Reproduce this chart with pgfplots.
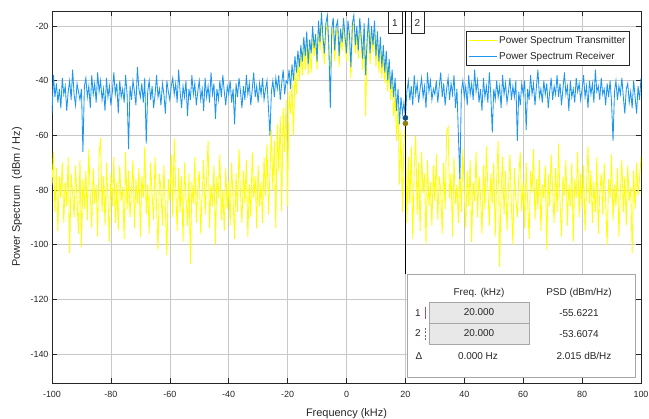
\documentclass[border=0pt]{standalone}
\usepackage{pgfplots}
\pgfplotsset{compat=1.18}
\usepackage{pgfplotstable}
\usepackage{fontspec}
\setmainfont{Liberation Sans}
\usetikzlibrary{calc}

\definecolor{txc}{RGB}{255,255,0}
\definecolor{rxc}{RGB}{30,150,240}
\definecolor{axc}{RGB}{38,38,38}
\definecolor{gridc}{RGB}{200,200,200}
\definecolor{dotb}{RGB}{20,75,130}
\definecolor{doty}{RGB}{140,125,20}
\definecolor{mk}{RGB}{170,80,110}

\pgfplotstableread{
x tx rx
-100 -78 -52
-99.5 -66 -38
-99 -88 -46
-98.5 -72 -41
-98 -95 -48
-97.5 -75 -43
-97 -83 -50
-96.5 -70 -39
-96 -92 -45
-95.5 -77 -42
-95 -86 -51
-94.5 -68 -44
-94 -103 -40
-93.5 -74 -47
-93 -81 -36
-92.5 -90 -45
-92 -71 -49
-91.5 -84 -41
-91 -96 -44
-90.5 -69 -47
-90 -101 -43
-89.5 -76 -66
-89 -87 -42
-88.5 -73 -39
-88 -91 -46
-87.5 -65 -42
-87 -82 -50
-86.5 -94 -38
-86 -72 -45
-85.5 -85 -41
-85 -78 -48
-84.5 -97 -37
-84 -67 -44
-83.5 -61 -40
-83 -88 -47
-82.5 -75 -43
-82 -93 -51
-81.5 -70 -39
-81 -83 -46
-80.5 -99 -42
-80 -74 -49
-79.5 -86 -44
-79 -68 -37
-78.5 -92 -45
-78 -77 -41
-77.5 -95 -52
-77 -71 -40
-76.5 -84 -46
-76 -79 -43
-75.5 -98 -48
-75 -66 -38
-74.5 -87 -45
-74 -73 -65
-73.5 -90 -42
-73 -80 -47
-72.5 -69 -40
-72 -94 -44
-71.5 -76 -49
-71 -85 -35
-70.5 -72 -43
-70 -97 -46
-69.5 -75 -41
-69 -83 -48
-68.5 -64 -39
-68 -89 -63
-67.5 -78 -44
-67 -96 -40
-66.5 -70 -47
-66 -82 -42
-65.5 -91 -50
-65 -68 -45
-64.5 -86 -38
-64 -102 -46
-63.5 -74 -43
-63 -80 -49
-62.5 -93 -41
-62 -71 -45
-61.5 -87 -52
-61 -104 -40
-60.5 -76 -44
-60 -84 -47
-59.5 -67 -42
-59 -90 -39
-58.5 -61 -45
-58 -79 -41
-57.5 -95 -48
-57 -72 -36
-56.5 -88 -44
-56 -75 -50
-55.5 -99 -42
-55 -70 -46
-54.5 -83 -40
-54 -93 -53
-53.5 -74 -43
-53 -107 -47
-52.5 -77 -38
-52 -85 -45
-51.5 -68 -41
-51 -92 -49
-50.5 -79 -44
-50 -73 -40
-49.5 -96 -47
-49 -81 -43
-48.5 -69 -51
-48 -89 -39
-47.5 -76 -46
-47 -62 -42
-46.5 -94 -48
-46 -78 -37
-45.5 -86 -45
-45 -71 -41
-44.5 -100 -54
-44 -75 -43
-43.5 -83 -47
-43 -67 -40
-42.5 -91 -46
-42 -80 -38
-41.5 -95 -44
-41 -72 -49
-40.5 -87 -42
-40 -77 -45
-39.5 -93 -40
-39 -70 -48
-38.5 -84 -43
-38 -98 -56
-37.5 -74 -41
-37 -88 -46
-36.5 -65 -39
-36 -81 -44
-35.5 -92 -50
-35 -73 -42
-34.5 -85 -47
-34 -69 -38
-33.5 -97 -45
-33 -78 -41
-32.5 -90 -49
-32 -66 -43
-31.5 -83 -37
-31 -75 -46
-30.5 -94 -42
-30 -71 -48
-29.5 -86 -41
-29 -77 -45
-28.5 -92 -39
-28 -68 -47
-27.5 -82 -43
-27 -63 -40
-26.5 -89 -50
-26 -74 -60
-25.5 -58 -44
-25 -80 -40
-24.5 -62 -46
-24 -94 -39
-23.5 -56 -43
-23 -73 -38
-22.5 -53 -47
-22 -88 -41
-21.5 -50 -36
-21 -66 -45
-20.5 -47 -40
-20 -86 -41
-19.5 -44 -36
-19 -52 -43
-18.5 -41 -34
-18 -60 -40
-17.5 -37 -31
-17 -45 -37
-16.5 -33 -29
-16 -40 -35
-15.5 -30 -27
-15 -38 -33
-14.5 -27 -24
-14 -36 -31
-13.5 -25 -22
-13 -38 -34
-12.5 -28 -25
-12 -37 -30
-11.5 -23 -20
-11 -31 -28
-10.5 -26 -23
-10 -36 -33
-9.5 -21 -18
-9 -29 -26
-8.5 -18 -15
-8 -27 -24
-7.5 -34 -30
-7 -22 -19
-6.5 -19 -16
-6 -30 -27
-5.5 -36 -50
-5 -24 -21
-4.5 -20 -17
-4 -33 -29
-3.5 -23 -20
-3 -21 -18
-2.5 -35 -31
-2 -24 -21
-1.5 -29 -26
-1 -20 -17
-0.5 -27 -24
0 -33 -30
0.5 -21 -18
1 -26 -23
1.5 -39 -35
2 -22 -19
2.5 -19 -16
3 -30 -27
3.5 -23 -20
4 -32 -29
4.5 -20 -17
5 -27 -24
5.5 -36 -32
6 -22 -19
6.5 -53 -38
7 -28 -25
7.5 -20 -17
8 -34 -30
8.5 -23 -20
9 -30 -27
9.5 -21 -18
10 -35 -31
10.5 -25 -22
11 -37 -33
11.5 -27 -24
12 -39 -35
12.5 -30 -27
13 -41 -37
13.5 -32 -29
14 -44 -40
14.5 -35 -32
15 -47 -43
15.5 -40 -36
16 -53 -46
16.5 -45 -39
17 -62 -51
17.5 -49 -43
18 -78 -56
18.5 -58 -46
19 -88 -52
19.5 -63 -48
20 -55.6221 -53.6074
20.5 -92 -44
21 -68 -40
21.5 -85 -47
22 -64 -42
22.5 -98 -49
23 -72 -38
23.5 -60 -45
24 -89 -41
24.5 -70 -48
25 -95 -43
25.5 -66 -39
26 -81 -46
26.5 -74 -42
27 -100 -50
27.5 -69 -37
28 -86 -44
28.5 -77 -40
29 -93 -47
29.5 -71 -43
30 -84 -45
30.5 -67 -40
31 -91 -48
31.5 -75 -42
32 -80 -37
32.5 -96 -46
33 -70 -41
33.5 -87 -49
34 -59 -43
34.5 -57 -39
35 -83 -47
35.5 -74 -41
36 -97 -45
36.5 -68 -38
37 -85 -50
37.5 -78 -43
38 -92 -60
38.5 -72 -76
39 -88 -44
39.5 -65 -40
40 -81 -46
40.5 -94 -42
41 -73 -49
41.5 -86 -38
42 -69 -45
42.5 -99 -41
43 -77 -47
43.5 -84 -36
44 -66 -44
44.5 -90 -40
45 -75 -48
45.5 -82 -43
46 -96 -51
46.5 -71 -39
47 -87 -46
47.5 -64 -42
48 -79 -48
48.5 -93 -37
49 -74 -45
49.5 -85 -59
50 -70 -43
50.5 -97 -47
51 -76 -40
51.5 -62 -46
52 -108 -42
52.5 -81 -50
53 -68 -38
53.5 -89 -45
54 -73 -41
54.5 -95 -48
55 -79 -44
55.5 -67 -39
56 -86 -47
56.5 -100 -42
57 -72 -46
57.5 -83 -40
58 -90 -62
58.5 -75 -44
59 -66 -49
59.5 -88 -41
60 -77 -45
60.5 -94 -40
61 -70 -58
61.5 -84 -43
62 -98 -47
62.5 -73 -38
63 -81 -45
63.5 -65 -41
64 -91 -49
64.5 -76 -42
65 -87 -36
65.5 -69 -46
66 -95 -43
66.5 -78 -48
67 -83 -40
67.5 -71 -45
68 -102 -41
68.5 -74 -50
69 -86 -44
69.5 -67 -39
70 -80 -47
70.5 -92 -42
71 -72 -45
71.5 -88 -38
72 -63 -46
72.5 -84 -41
73 -97 -49
73.5 -75 -43
74 -82 -37
74.5 -69 -45
75 -93 -42
75.5 -78 -51
76 -86 -40
76.5 -70 -46
77 -99 -43
77.5 -76 -48
78 -83 -39
78.5 -66 -44
79 -90 -41
79.5 -74 -47
80 -87 -43
80.5 -71 -38
81 -95 -46
81.5 -79 -42
82 -64 -50
82.5 -85 -40
83 -73 -45
83.5 -92 -41
84 -77 -48
84.5 -88 -36
85 -68 -44
85.5 -96 -42
86 -81 -47
86.5 -74 -39
87 -89 -45
87.5 -70 -43
88 -84 -49
88.5 -100 -41
89 -76 -46
89.5 -83 -40
90 -67 -48
90.5 -91 -62
91 -78 -44
91.5 -86 -40
92 -72 -47
92.5 -97 -42
93 -80 -45
93.5 -69 -39
94 -88 -46
94.5 -75 -52
95 -93 -43
95.5 -71 -41
96 -84 -48
96.5 -79 -44
97 -103 -50
97.5 -73 -40
98 -87 -46
98.5 -70 -52
99 -82 -42
99.5 -76 -47
100 -68 -39
}\spec

\begin{document}
\begin{tikzpicture}
\begin{axis}[
  scale only axis, width=589bp, height=372bp,
  xmin=-100, xmax=100, ymin=-150.6, ymax=-14.5,
  xtick={-100,-80,...,100}, ytick={-140,-120,...,-20},
  tick align=inside, major tick length=5bp,
  grid=major, major grid style={gridc, line width=0.6bp},
  axis line style={axc, line width=0.8bp},
  tick style={axc, line width=0.6bp},
  /pgf/number format/assume math mode=true,
  tick label style={font=\fontsize{9}{10}\selectfont, text=axc},
  xticklabel style={yshift=-5bp},
  xlabel={Frequency (kHz)},
  ylabel={Power Spectrum\ \ (dBm / Hz)},
  label style={font=\fontsize{11}{12}\selectfont, text=axc},
  xlabel style={at={([yshift=-22bp]axis description cs:0.5,0)}, anchor=north},
  ylabel style={at={([xshift=-35bp]axis description cs:0,0.5)}, anchor=center},
  legend cell align=left,
  legend style={at={(0.981,0.946)}, anchor=north east, draw=axc, line width=0.6bp,
    fill=white, font=\fontsize{10}{11}\selectfont, text=axc,
    inner xsep=2bp, inner ysep=3bp, row sep=3bp},
  legend image code/.code={\draw[#1, line width=1bp] (0bp,0bp) -- (28bp,0bp);},
]
\addplot[txc, line width=0.85bp] table[x=x, y=tx]{\spec};
\addlegendentry{Power Spectrum Transmitter}
\addplot[rxc, line width=0.85bp] table[x=x, y=rx]{\spec};
\addlegendentry{Power Spectrum Receiver}
\addplot[black, line width=0.8bp, forget plot] coordinates {(20,-14.5) (20,-110.6)};
\addplot[only marks, mark=*, mark size=2.6bp, doty, forget plot] coordinates {(20,-55.6221)};
\addplot[only marks, mark=*, mark size=2.6bp, dotb, forget plot] coordinates {(20,-53.6074)};
\coordinate (sw) at (rel axis cs:0,0);
\end{axis}
\begin{scope}[shift={($(sw)+(-52bp,383bp)$)}, x=1bp, y=-1bp, font=\fontsize{10}{11}\selectfont, text=axc]
  \draw[axc, line width=0.7bp, fill=white] (388,11) rectangle (402,33);
  \node at (395,23) {1};
  \draw[axc, line width=0.7bp, fill=white] (411,11) rectangle (424,33);
  \node at (417.5,23) {2};
  \draw[black!35, line width=0.8bp, fill=white] (407,274) rectangle (635,377);
  \node at (479,293) {Freq. (kHz)};
  \node at (579,293) {PSD (dBm/Hz)};
  \draw[black!35, line width=0.6bp, fill=black!9] (429,302) rectangle (529,323);
  \draw[black!35, line width=0.6bp, fill=black!9] (429,323) rectangle (529,344);
  \node at (418,313) {1};
  \draw[mk, line width=0.8bp] (425,307) -- (425,319);
  \node at (479,312.5) {20.000};
  \node at (579,313) {-55.6221};
  \node at (418,333.5) {2};
  \draw[mk, line width=0.8bp, dash pattern=on 2bp off 1.5bp] (425,328) -- (425,340);
  \node at (479,333.5) {20.000};
  \node at (579,334) {-53.6074};
  \node at (419,356) {Δ};
  \node at (478,356) {0.000 Hz};
  \node at (584,356) {2.015 dB/Hz};
\end{scope}
\pgfresetboundingbox
\path[use as bounding box] ($(sw)+(-52bp,-36bp)$) rectangle ($(sw)+(597bp,383bp)$);
\end{tikzpicture}
\end{document}
